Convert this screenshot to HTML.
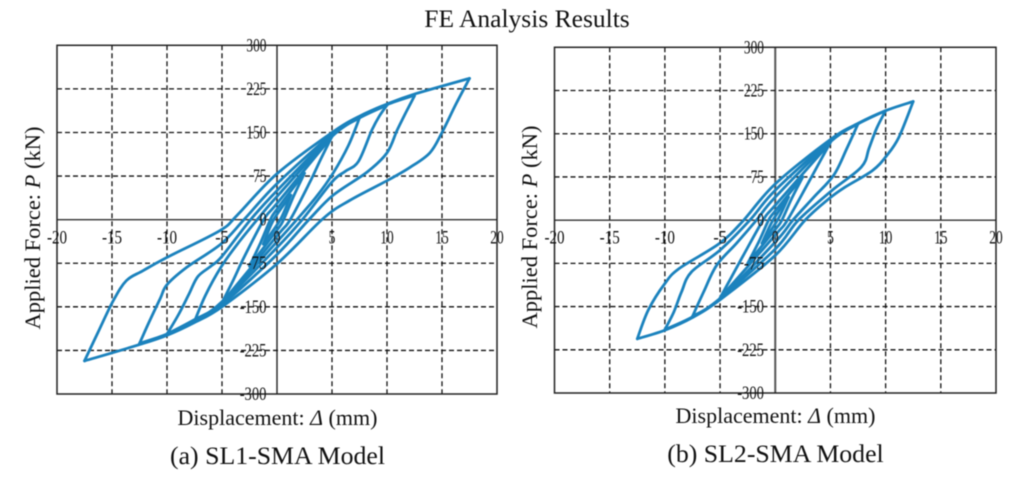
<!DOCTYPE html>
<html>
<head>
<meta charset="utf-8">
<title>FE Analysis Results</title>
<style>
html,body{margin:0;padding:0;background:#fff;width:1024px;height:487px;overflow:hidden}
svg{display:block;font-family:"Liberation Serif",serif;filter:blur(0.4px)}
text{fill:#111}
</style>
</head>
<body>
<svg id="fig" width="1024" height="487" viewBox="0 0 1024 487" xmlns="http://www.w3.org/2000/svg">
  <text x="527" y="27" font-size="25.5" text-anchor="middle">FE Analysis Results</text>
  <text transform="translate(40,228) rotate(-90)" font-size="22.5" text-anchor="middle">Applied Force: <tspan font-style="italic">P</tspan> (kN)</text>
  <text x="277.5" y="425" font-size="22" text-anchor="middle">Displacement: <tspan font-style="italic">Δ</tspan> (mm)</text>
  <text x="277.5" y="464" font-size="25.8" text-anchor="middle">(a) SL1-SMA Model</text>
  <text transform="translate(537,227) rotate(-90)" font-size="22.5" text-anchor="middle">Applied Force: <tspan font-style="italic">P</tspan> (kN)</text>
  <text x="775.5" y="423" font-size="22" text-anchor="middle">Displacement: <tspan font-style="italic">Δ</tspan> (mm)</text>
  <text x="775.5" y="462" font-size="25.8" text-anchor="middle">(b) SL2-SMA Model</text>
  <g id="panel-a"></g>
  <g id="panel-b"></g>
</svg>
<script>
// Axis tick values
const xTicks = [-20, -15, -10, -5, 0, 5, 10, 15, 20];
const yTicks = [300, 225, 150, 75, 0, -75, -150, -225, -300];

// SL1-SMA hysteresis branches: [displacement mm, force kN]
const sl1Desc175 = [[17.5,243],[16.3,200],[15,150],[13.9,115],[12.1,90],[10,67],[6.6,33],[4.2,2],[0,-76],[-5,-150],[-7.5,-177],[-10,-199],[-12.5,-215],[-17.5,-243]];
const sl1Asc175 = [[-17.5,-243],[-16.3,-195],[-14.9,-140],[-13.7,-105],[-12.2,-88],[-10,-65],[-5.2,-19],[-3.6,8],[0,79],[5,150],[7.5,178],[10,199],[12.5,216],[17.5,243]];
const sl1Desc125 = [[12.5,213],[11.6,180],[10.9,153],[10,115],[8.2,82],[5.1,42],[2.9,0],[0,-60],[-5,-146],[-7.5,-174],[-10,-197],[-12.5,-213]];
const sl1Asc125 = [[-12.5,-213],[-11.6,-175],[-10.6,-135],[-10,-112],[-8.2,-82],[-5.1,-42],[-3,0],[0,62],[5,147],[7.5,176],[10,198],[12.5,214]];
const sl1Desc100 = [[10,197],[9.3,178],[8.6,153],[7.4,100],[6.2,83],[5,65],[2.3,0],[0,-48],[-5,-143],[-7.5,-172],[-10,-197]];
const sl1Asc100 = [[-10,-197],[-9,-165],[-8,-128],[-7.2,-98],[-6,-80],[-5,-63],[-2.4,0],[0,50],[5,145],[7.5,175],[10,197]];
const sl1Desc75 = [[7.5,175],[6.5,128],[5.1,80],[3.6,40],[1.8,0],[0,-38],[-5,-141],[-7.5,-175]];
const sl1Asc75 = [[-7.5,-175],[-6.5,-130],[-5.1,-82],[-3.6,-42],[-1.8,0],[0,40],[5,143],[7.5,175]];
const sl1Desc50 = [[5,143],[4,105],[3,65],[1.2,0],[0,-28],[-5,-143]];
const sl1Asc50 = [[-5,-143],[-4,-105],[-3,-65],[-1.2,0],[0,28],[5,143]];
const sl1Desc25 = [[2.5,80],[1.5,40],[0.6,0],[0,-18],[-2.5,-80]];
const sl1Asc25 = [[-2.5,-80],[-1.5,-40],[-0.6,0],[0,18],[2.5,80]];
const sl1Desc12 = [[1.25,42],[0.3,0],[-1.25,-42]];
const sl1Asc12 = [[-1.25,-42],[-0.3,0],[1.25,42]];

// SL2-SMA hysteresis branches: [displacement mm, force kN]
const sl2Desc125 = [[12.5,206],[11.2,144],[10.1,112],[8.8,86],[6.3,57],[4.85,37],[2.7,0],[0,-61],[-5,-138],[-7.5,-169],[-10,-191],[-12.5,-206]];
const sl2Asc125 = [[-12.5,-206],[-11.5,-156],[-10,-110],[-8.7,-84],[-5.1,-41],[-3,-3],[0,63],[5,140],[7.5,168],[10,190],[12.5,206]];
const sl2Desc100 = [[10,190],[9.2,160],[8.5,125],[7.8,92],[5.1,51],[2.1,0],[0,-50],[-5,-136],[-7.5,-168],[-10,-190]];
const sl2Asc100 = [[-10,-190],[-9.2,-160],[-8.5,-125],[-7.6,-90],[-5,-52],[-2.3,0],[0,52],[5,138],[7.5,167],[10,190]];
const sl2Desc75 = [[7.5,167],[6.5,125],[5.3,78],[3.5,40],[1.6,0],[0,-38],[-5,-136],[-7.5,-167]];
const sl2Asc75 = [[-7.5,-167],[-6.5,-125],[-5.3,-78],[-3.5,-40],[-1.7,0],[0,40],[5,136],[7.5,167]];
const sl2Desc50 = [[5,135],[4,100],[3,65],[1.1,0],[0,-26],[-5,-135]];
const sl2Asc50 = [[-5,-135],[-4,-100],[-3,-65],[-1.1,0],[0,26],[5,135]];
const sl2Desc25 = [[2.5,75],[1.5,38],[0.6,0],[0,-16],[-2.5,-75]];
const sl2Asc25 = [[-2.5,-75],[-1.5,-38],[-0.6,0],[0,16],[2.5,75]];
const sl2Desc10 = [[1.2,40],[0.2,0],[-1.2,-40]];
const sl2Asc10 = [[-1.2,-40],[-0.2,0],[1.2,40]];

const sl1Branches = [sl1Desc175, sl1Asc175, sl1Desc125, sl1Asc125, sl1Desc100, sl1Asc100, sl1Desc75, sl1Asc75, sl1Desc50, sl1Asc50, sl1Desc25, sl1Asc25, sl1Desc12, sl1Asc12];
const sl2Branches = [sl2Desc125, sl2Asc125, sl2Desc100, sl2Asc100, sl2Desc75, sl2Asc75, sl2Desc50, sl2Asc50, sl2Desc25, sl2Asc25, sl2Desc10, sl2Asc10];

const NS = 'http://www.w3.org/2000/svg';

function smoothPath(pts) {
  let d = 'M' + pts[0][0].toFixed(1) + ' ' + pts[0][1].toFixed(1);
  for (let i = 0; i < pts.length - 1; i++) {
    const p0 = pts[Math.max(0, i - 1)], p1 = pts[i], p2 = pts[i + 1], p3 = pts[Math.min(pts.length - 1, i + 2)];
    const c1x = p1[0] + (p2[0] - p0[0]) / 6, c1y = p1[1] + (p2[1] - p0[1]) / 6;
    const c2x = p2[0] - (p3[0] - p1[0]) / 6, c2y = p2[1] - (p3[1] - p1[1]) / 6;
    d += 'C' + c1x.toFixed(1) + ' ' + c1y.toFixed(1) + ' ' + c2x.toFixed(1) + ' ' + c2y.toFixed(1) + ' ' + p2[0].toFixed(1) + ' ' + p2[1].toFixed(1);
  }
  return d;
}

function drawPanel(g, box, branches, prefix) {
  const xScale = v => box.left + (v + 20) / 40 * (box.right - box.left);
  const yScale = v => box.top + (300 - v) / 600 * (box.bottom - box.top);

  function line(x1, y1, x2, y2, dashed, width, color, name) {
    const el = document.createElementNS(NS, 'line');
    el.setAttribute('x1', x1);
    el.setAttribute('y1', y1);
    el.setAttribute('x2', x2);
    el.setAttribute('y2', y2);
    el.setAttribute('stroke', color);
    el.setAttribute('stroke-width', width);
    if (dashed) el.setAttribute('stroke-dasharray', '5 3');
    
    
    g.appendChild(el);
  }

  xTicks.forEach(t => {
    if (t === -20 || t === 20) return;
    line(xScale(t), box.top, xScale(t), box.bottom, t !== 0, t === 0 ? box.zeroW : 1.3, t === 0 ? box.zeroC : '#111', prefix + '-x-gridline');
  });
  yTicks.forEach(t => {
    if (t === 300 || t === -300) return;
    line(box.left, yScale(t), box.right, yScale(t), t !== 0, t === 0 ? 1.4 : 1.3, t === 0 ? '#333' : '#111', prefix + '-y-gridline');
  });

  const frame = document.createElementNS(NS, 'rect');
  frame.setAttribute('x', box.left);
  frame.setAttribute('y', box.top);
  frame.setAttribute('width', box.right - box.left);
  frame.setAttribute('height', box.bottom - box.top);
  frame.setAttribute('fill', 'none');
  frame.setAttribute('stroke', '#222');
  frame.setAttribute('stroke-width', '1.5');
  
  
  g.appendChild(frame);

  branches.forEach((b, i) => {
    const p = document.createElementNS(NS, 'path');
    p.setAttribute('d', smoothPath(b.map(q => [xScale(q[0]), yScale(q[1])])));
    p.setAttribute('fill', 'none');
    p.setAttribute('stroke', '#1b82bd');
    p.setAttribute('stroke-width', '2.8');
    p.setAttribute('stroke-linejoin', 'round');
    p.setAttribute('stroke-linecap', 'round');
    
    
    g.appendChild(p);
  });

  function label(x, y, str, anchor, name) {
    const t = document.createElementNS(NS, 'text');
    t.setAttribute('x', x);
    t.setAttribute('y', y);
    t.setAttribute('font-size', '19');
    t.setAttribute('text-anchor', anchor);
    t.setAttribute('textLength', str.length * 6.7);
    t.setAttribute('lengthAdjust', 'spacingAndGlyphs');
    
    
    t.textContent = str;
    g.appendChild(t);
  }

  xTicks.forEach(t => label(xScale(t), 243.5, String(t), 'middle', prefix + '-x-tick-label'));
  yTicks.forEach(t => label(box.labelRight, yScale(t) + 6, String(t), 'end', prefix + '-y-tick-label'));
}

drawPanel(document.getElementById('panel-a'), {left: 57, right: 497, top: 45.3, bottom: 394, labelRight: 266.5, zeroW: 1.4, zeroC: '#222'}, sl1Branches, 'sl1');
drawPanel(document.getElementById('panel-b'), {left: 554.5, right: 996, top: 47.3, bottom: 393, labelRight: 764, zeroW: 2, zeroC: '#555'}, sl2Branches, 'sl2');
</script>
</body>
</html>
